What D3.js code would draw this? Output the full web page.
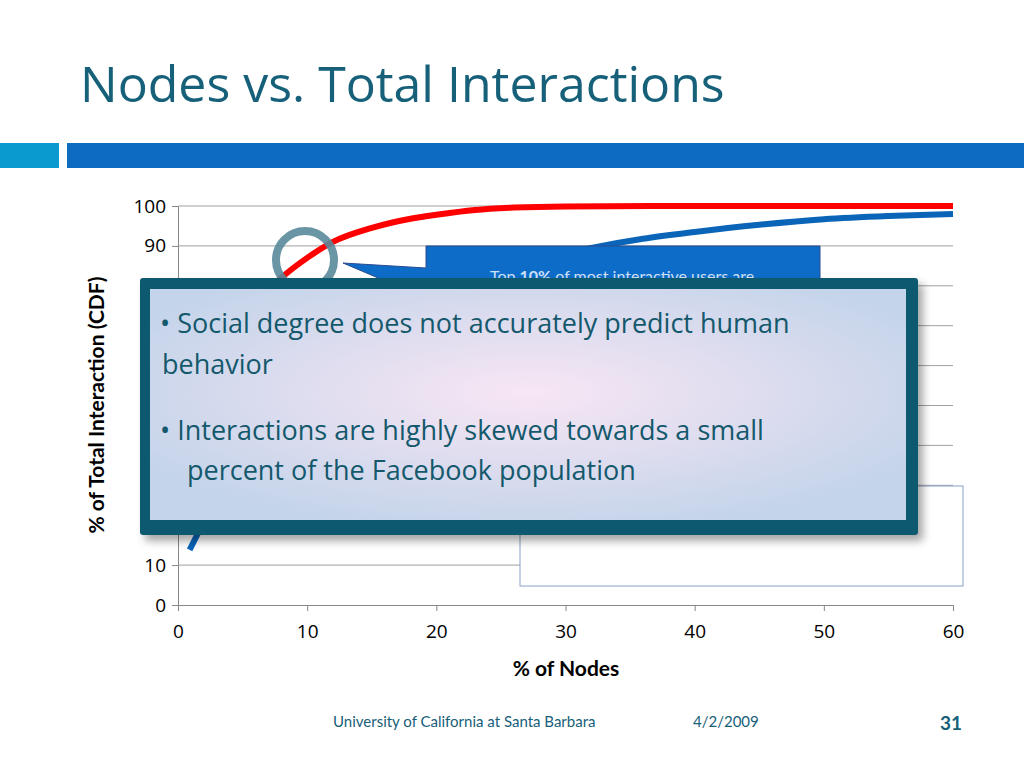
<!DOCTYPE html><html><head><meta charset="utf-8"><script src="https://cdn.jsdelivr.net/npm/d3@7"></script>
<style>body{margin:0;background:#fff}svg{display:block;font-family:'Lato','Open Sans',sans-serif}</style></head><body><svg id="c" width="1024" height="768"></svg>
<script>
const xTicks=[0,10,20,30,40,50,60];
const yTicks=[0,10,20,30,40,50,60,70,80,90,100];
const redX=[7,8,10,12,15,18,20,23,26,30,40,60];
const redY=[79,82,87,91,94.5,96.8,97.8,99,99.6,99.9,100,100];
const blueX=[0.9,2,4,8,15,25,32,36,40,45,50,55,60];
const blueY=[13.8,21,35,55,72,84,89.5,91.8,93.5,95.3,96.7,97.5,98];
const title="Nodes vs. Total Interactions";
const bullets=[["Social degree does not accurately predict  human","behavior"],["Interactions are highly skewed towards a small","percent of the Facebook population"]];
const svg=d3.select("#c");
const x=d3.scaleLinear().domain([0,60]).range([178,953]);
const y=d3.scaleLinear().domain([0,100]).range([605,206]);
svg.append("text").attr("x",80).attr("y",102).attr("font-size",50).attr("fill","#17607a").attr("font-family","'Open Sans',sans-serif").text(title);
svg.append("rect").attr("x",0).attr("y",143).attr("width",59).attr("height",25).attr("fill","#0a9ad0");
svg.append("rect").attr("x",67).attr("y",143).attr("width",957).attr("height",25).attr("fill","#0d6cc0");
svg.append("g").selectAll("line").data(yTicks.slice(1)).join("line").attr("x1",178).attr("x2",953).attr("y1",d=>y(d)).attr("y2",d=>y(d)).attr("stroke","#a0a0a0");
const ax=svg.append("g").attr("transform","translate(0,605)").call(d3.axisBottom(x).tickValues(xTicks).tickSize(6).tickPadding(14));
const ay=svg.append("g").attr("transform","translate(178,0)").call(d3.axisLeft(y).tickValues(yTicks).tickSize(6).tickPadding(6));
[ax,ay].forEach(a=>{a.selectAll("path,line").attr("stroke","#888");a.selectAll("text").attr("font-size",19).attr("fill","#000").attr("font-family","'Open Sans',sans-serif");});
svg.append("text").attr("x",566).attr("y",676).attr("text-anchor","middle").attr("font-size",21).attr("font-weight","bold").text("% of Nodes");
svg.append("text").attr("transform","translate(104,405) rotate(-90)").attr("text-anchor","middle").attr("font-size",21).attr("font-weight","bold").text("% of Total Interaction (CDF)");
const line=d3.line().x(d=>x(d[0])).y(d=>y(d[1])).curve(d3.curveMonotoneX);
svg.append("path").attr("d",line(redX.map((v,i)=>[v,redY[i]]))).attr("fill","none").attr("stroke","#ff0000").attr("stroke-width",6);
svg.append("path").attr("d",line(blueX.map((v,i)=>[v,blueY[i]]))).attr("fill","none").attr("stroke","#0a64b8").attr("stroke-width",6);
svg.append("circle").attr("cx",305).attr("cy",260).attr("r",29).attr("fill","none").attr("stroke","#5a8a9a").attr("stroke-width",8).attr("opacity",0.9);
svg.append("rect").attr("x",520).attr("y",486).attr("width",443).attr("height",100).attr("fill","#fff").attr("stroke","#8aa0c8");
svg.append("path").attr("d","M426,246 L820,246 L820,300 L430,300 L343,263 L426,268 Z").attr("fill","#0d6cc8").attr("stroke","#2a4a90");
svg.append("text").attr("x",622).attr("y",282).attr("text-anchor","middle").attr("fill","#cfe0f5").attr("font-size",16).html("Top <tspan font-weight='bold'>10%</tspan> of most interactive users are");
const defs=svg.append("defs");
const g=defs.append("radialGradient").attr("id","rg").attr("cx","0.5").attr("cy","0.45").attr("r","0.6");
g.append("stop").attr("offset","0").attr("stop-color","#f8e6f4");g.append("stop").attr("offset","1").attr("stop-color","#c4d4ea");
const f=defs.append("filter").attr("id","sh").attr("x","-5%").attr("y","-5%").attr("width","115%").attr("height","120%");
f.append("feDropShadow").attr("dx",5).attr("dy",6).attr("stdDeviation",4).attr("flood-opacity",0.35);
svg.append("rect").attr("x",140).attr("y",278).attr("width",778).attr("height",257).attr("rx",3).attr("fill","#0d5a70").attr("filter","url(#sh)");
svg.append("rect").attr("x",150).attr("y",289).attr("width",756).attr("height",231).attr("fill","url(#rg)");
const tg=svg.append("g").attr("fill","#14586c").attr("font-size",27).attr("font-family","'Open Sans',sans-serif");
tg.append("text").attr("x",160).attr("y",333).text("\u2022 "+bullets[0][0]);
tg.append("text").attr("x",162).attr("y",374).text(bullets[0][1]);
tg.append("text").attr("x",160).attr("y",440).text("\u2022 "+bullets[1][0]);
tg.append("text").attr("x",187).attr("y",480).text(bullets[1][1]);
svg.append("text").attr("x",333).attr("y",727).attr("font-size",15).attr("fill","#17607a").text("University of California at Santa Barbara");
svg.append("text").attr("x",693).attr("y",727).attr("font-size",15).attr("fill","#17607a").text("4/2/2009");
svg.append("text").attr("x",962).attr("y",730).attr("text-anchor","end").attr("font-size",19).attr("font-weight","bold").attr("fill","#17607a").text("31");
</script></body></html>
